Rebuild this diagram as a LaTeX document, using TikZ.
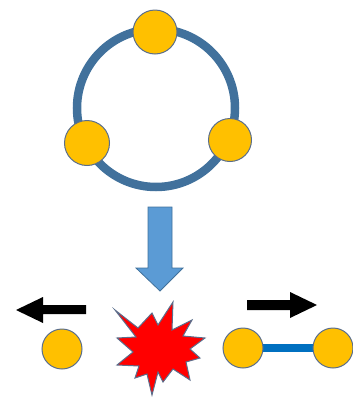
\documentclass[tikz,border=0pt]{standalone}
\usetikzlibrary{backgrounds}
\definecolor{ballY}{RGB}{255,192,0}
\definecolor{ballE}{RGB}{90,110,140}
\definecolor{ringB}{RGB}{65,113,156}
\definecolor{arrB}{RGB}{91,155,213}
\definecolor{barB}{RGB}{0,112,192}
\tikzset{
  ball/.style={circle,fill=ballY,draw=ballE,line width=1pt,inner sep=0pt,minimum size=#1},
  ball/.default=44pt,
  blackarrow/.style={fill=black,draw=none}
}
\begin{document}
\begin{tikzpicture}[x=1pt,y=-1pt]
\useasboundingbox (0,0) rectangle (353,397);
% ring
\node[circle,draw=ringB,line width=8.5pt,minimum size=158pt,inner sep=0pt] (ring) at (156,108) {};
\node[ball=44pt] (top) at (155,32) {};
\node[ball=45pt] (left) at (87,143) {};
\node[ball=43pt] (right) at (230,140) {};
% down arrow
\draw[fill=arrB,draw=ringB,line width=0.8pt]
  (148,207) -- (172,207) -- (172,268) -- (183,268) -- (160,291) -- (136,268) -- (148,268) -- cycle;
% left black arrow
\fill[blackarrow] (86,305) -- (86,314) -- (43,314) -- (43,323) -- (16,310) -- (43,297) -- (43,305) -- cycle;
% right black arrow
\fill[blackarrow] (247,300) -- (290,300) -- (290,292) -- (317,305) -- (290,318) -- (290,310) -- (247,310) -- cycle;
% single ball
\node[ball=40pt] (single) at (62,349) {};
% explosion
\draw[fill=red,draw=ballE,line width=1pt]
  (115,310) -- (138,328) -- (152,313) -- (158,325) -- (173,302) -- (172,330)
  -- (192,320) -- (183,336) -- (205,338) -- (190,349) -- (200,358) -- (186,362)
  -- (190,380) -- (173,369) -- (163,382) -- (158,372) -- (152,395) -- (147,374)
  -- (135,378) -- (139,366) -- (117,365) -- (133,352) -- (117,338) -- (136,337) -- cycle;
% dumbbell
\node[ball=40pt] (dl) at (243,348) {};
\node[ball=40pt] (dr) at (333,348) {};
\begin{scope}[on background layer]
\draw[barB,line width=8pt] (dl.center) -- (dr.center);
\end{scope}
\end{tikzpicture}
\end{document}
